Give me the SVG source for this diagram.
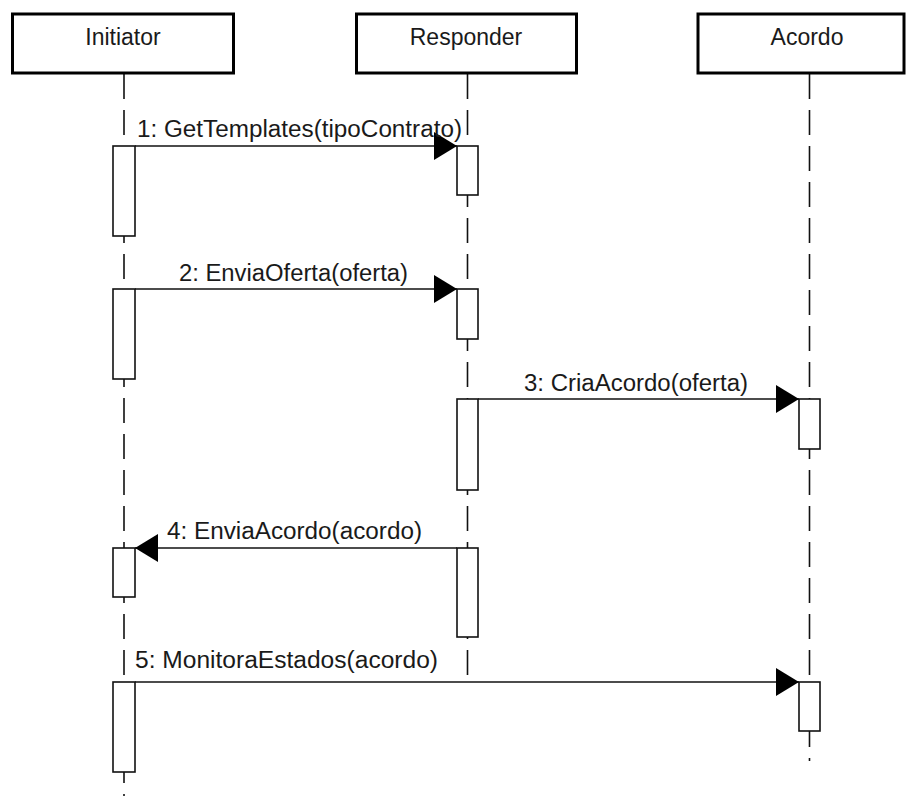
<svg xmlns="http://www.w3.org/2000/svg" width="908" height="796" viewBox="0 0 908 796">
  <style>
    .box { fill: #fff; stroke: #000; stroke-width: 3; }
    .life { stroke: #111; stroke-width: 1.6; stroke-dasharray: 25 11; fill: none; }
    .act { fill: #fff; stroke: #111; stroke-width: 1.6; }
    .msg { stroke: #111; stroke-width: 1.5; fill: none; marker-end: url(#head); }
    text { font-family: "Liberation Sans", Arial, sans-serif; font-size: 23px; fill: #1a1a1a; }
    .name { text-anchor: middle; }
  </style>
  <defs>
    <marker id="head" markerUnits="userSpaceOnUse" markerWidth="24" markerHeight="29" refX="23" refY="14" orient="auto">
      <path d="M0,0 L23,14 L0,28 z" fill="#000"/>
    </marker>
  </defs>

  <rect width="908" height="796" fill="#fff"/>

  <!-- lifelines -->
  <g id="lifelines">
    <line class="life" x1="124" y1="74" x2="124" y2="796"/>
    <line class="life" x1="467.5" y1="74" x2="467.5" y2="675"/>
    <line class="life" x1="809.5" y1="74" x2="809.5" y2="761"/>
  </g>

  <g id="initiator">
    <rect class="box" x="12.5" y="14" width="221" height="59"/>
    <text class="name" x="123" y="45">Initiator</text>
    <rect class="act" x="113" y="146" width="22" height="90"/>
    <rect class="act" x="113" y="289" width="22" height="90"/>
    <rect class="act" x="113" y="548" width="22" height="49"/>
    <rect class="act" x="113" y="682" width="22" height="90"/>
  </g>

  <g id="responder">
    <rect class="box" x="356.5" y="14" width="220" height="59"/>
    <text class="name" x="466" y="45">Responder</text>
    <rect class="act" x="457" y="146" width="21" height="49"/>
    <rect class="act" x="457" y="289" width="21" height="50"/>
    <rect class="act" x="457" y="399" width="21" height="91"/>
    <rect class="act" x="457" y="548" width="21" height="89"/>
  </g>

  <g id="acordo">
    <rect class="box" x="698" y="14" width="206" height="59"/>
    <text class="name" x="807" y="45">Acordo</text>
    <rect class="act" x="799" y="399" width="21" height="50"/>
    <rect class="act" x="799" y="682" width="21" height="49"/>
  </g>

  <!-- messages -->
  <g id="connectors">
    <line class="msg" x1="135" y1="146" x2="457" y2="146"/>
    <line class="msg" x1="135" y1="289" x2="457" y2="289"/>
    <line class="msg" x1="478" y1="399" x2="799" y2="399"/>
    <line class="msg" x1="457" y1="548" x2="135" y2="548"/>
    <line class="msg" x1="135" y1="682" x2="799" y2="682"/>
  </g>

  <g id="labels">
    <text x="137" y="137" textLength="325" lengthAdjust="spacingAndGlyphs">1: GetTemplates(tipoContrato)</text>
    <text x="179" y="281" textLength="229" lengthAdjust="spacingAndGlyphs">2: EnviaOferta(oferta)</text>
    <text x="524" y="391" textLength="224" lengthAdjust="spacingAndGlyphs">3: CriaAcordo(oferta)</text>
    <text x="167" y="539" textLength="255" lengthAdjust="spacingAndGlyphs">4: EnviaAcordo(acordo)</text>
    <text x="135" y="668" textLength="303" lengthAdjust="spacingAndGlyphs">5: MonitoraEstados(acordo)</text>
  </g>
</svg>
